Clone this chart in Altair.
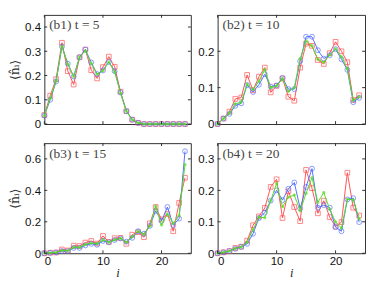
import altair as alt
import pandas as pd

sites = list(range(25))

b1_red = [0.037, 0.117, 0.185, 0.335, 0.218, 0.163, 0.275, 0.307, 0.222, 0.188, 0.235, 0.278, 0.236,
          0.133, 0.053, 0.018, 0.005, 0, 0, 0, 0, 0, 0, 0, 0]
b1_blue = [0.035, 0.100, 0.175, 0.320, 0.249, 0.196, 0.275, 0.307, 0.254, 0.206, 0.221, 0.256, 0.218,
           0.130, 0.053, 0.018, 0.005, 0, 0, 0, 0, 0, 0, 0, 0]
b1_green = [0.035, 0.105, 0.178, 0.320, 0.247, 0.195, 0.275, 0.302, 0.250, 0.205, 0.220, 0.256, 0.215,
            0.128, 0.053, 0.018, 0.005, 0, 0, 0, 0, 0, 0, 0, 0]

b2_red = [0, 0.015, 0.034, 0.069, 0.073, 0.135, 0.093, 0.130, 0.155, 0.087, 0.105, 0.125, 0.075,
          0.064, 0.155, 0.221, 0.215, 0.176, 0.165, 0.195, 0.226, 0.200, 0.170, 0.066, 0.079]
b2_blue = [0, 0.015, 0.028, 0.050, 0.057, 0.107, 0.088, 0.108, 0.137, 0.103, 0.106, 0.127, 0.096,
           0.096, 0.173, 0.240, 0.240, 0.203, 0.180, 0.189, 0.206, 0.178, 0.149, 0.060, 0.072]
b2_green = [0, 0.015, 0.030, 0.055, 0.060, 0.110, 0.095, 0.118, 0.150, 0.100, 0.105, 0.125, 0.090,
            0.100, 0.180, 0.228, 0.215, 0.178, 0.170, 0.190, 0.207, 0.185, 0.152, 0.065, 0.075]

b3_red = [0, 0.003, 0.005, 0.024, 0.018, 0.048, 0.046, 0.068, 0.078, 0.062, 0.110, 0.072, 0.096,
          0.098, 0.060, 0.118, 0.134, 0.102, 0.190, 0.294, 0.215, 0.250, 0.140, 0.320, 0.480]
b3_blue = [0, 0.003, 0.005, 0.014, 0.014, 0.034, 0.034, 0.050, 0.060, 0.054, 0.078, 0.070, 0.084,
           0.094, 0.074, 0.098, 0.140, 0.124, 0.174, 0.270, 0.205, 0.294, 0.178, 0.220, 0.648]
b3_green = [0, 0.003, 0.005, 0.018, 0.016, 0.038, 0.038, 0.055, 0.065, 0.060, 0.085, 0.070, 0.085,
            0.095, 0.070, 0.105, 0.140, 0.120, 0.172, 0.300, 0.180, 0.250, 0.190, 0.240, 0.564]

b4_red = [0, 0.003, 0.007, 0.017, 0.021, 0.040, 0.089, 0.117, 0.144, 0.211, 0.235, 0.112, 0.197,
          0.147, 0.102, 0.265, 0.207, 0.127, 0.167, 0.115, 0.085, 0.099, 0.256, 0.145, 0.120]
b4_blue = [0, 0.003, 0.007, 0.014, 0.020, 0.030, 0.062, 0.112, 0.129, 0.167, 0.200, 0.169, 0.205,
           0.225, 0.142, 0.211, 0.269, 0.145, 0.153, 0.145, 0.083, 0.070, 0.171, 0.175, 0.099]
b4_green = [0, 0.003, 0.007, 0.015, 0.020, 0.035, 0.075, 0.115, 0.113, 0.167, 0.222, 0.148, 0.178,
            0.185, 0.135, 0.190, 0.240, 0.162, 0.193, 0.140, 0.100, 0.080, 0.172, 0.170, 0.110]

labels = ["(b1) t = 5", "(b2) t = 10", "(b3) t = 15", "(b4) t = 20"]
y_max = [0.45, 0.30, 0.70, 0.35]
y_ticks = [[0, 0.1, 0.2, 0.3, 0.4], [0, 0.1, 0.2], [0, 0.2, 0.4, 0.6], [0, 0.1, 0.2, 0.3]]
x_ticks = [0, 10, 20]

RED = "#ff4f4f"
BLUE = "#4f6dff"
GREEN = "#55dd22"
FRAME = "#2a2a2a"
TICK = 3

ASTERISK = "M-1,0L1,0M0,-1L0,1M-0.7,-0.7L0.7,0.7M-0.7,0.7L0.7,-0.7"


def panel(red, blue, green, label, ymax, yt, width, height, show_x, show_ytitle):
    xs = alt.Scale(domain=[0, 25], nice=False, zero=False)
    ys = alt.Scale(domain=[0, ymax], nice=False, zero=False)
    if show_x:
        xaxis = alt.Axis(values=x_ticks, ticks=False, domain=False, grid=False,
                         labelFont="Liberation Sans", labelFontSize=12, labelPadding=3,
                         labelColor="#111", title="i", titleFont="Liberation Serif",
                         titleFontStyle="italic", titleFontWeight="normal", titleFontSize=13,
                         titlePadding=0, titleColor="#222")
    else:
        xaxis = None
    yaxis = alt.Axis(values=yt, ticks=False, domain=False, grid=False,
                     labelFont="Liberation Sans", labelFontSize=12, labelPadding=4,
                     labelColor="#111",
                     labelExpr="datum.value == 0 ? '0' : format(datum.value, '.1f')",
                     title=("⟨n̂ᵢ⟩" if show_ytitle else None), titleFont="DejaVu Serif",
                     titleFontWeight="normal", titleFontSize=13, titlePadding=3,
                     titleColor="#333")
    xenc = alt.X("i:Q", scale=xs, axis=xaxis)
    yenc = alt.Y("val:Q", scale=ys, axis=yaxis)
    layers = []
    for vals, col, kind in [(red, RED, "sq"), (blue, BLUE, "ci"), (green, GREEN, "st")]:
        df = pd.DataFrame({"i": sites, "val": vals})
        base = alt.Chart(df)
        line = base.mark_line(color=col, strokeWidth=1).encode(x=xenc, y=yenc)
        if kind == "sq":
            pt = base.mark_point(shape="square", filled=False, size=24, color=col, strokeWidth=1)
        elif kind == "ci":
            pt = base.mark_point(shape="circle", filled=False, size=26, color=col, strokeWidth=1)
        else:
            pt = base.mark_point(shape=ASTERISK, filled=False, size=10, color=col, strokeWidth=1.6)
        pt = pt.encode(x=xenc, y=yenc)
        layers += [line, pt]

    xt = pd.DataFrame({"i": x_ticks})
    yt_df = pd.DataFrame({"val": yt})
    layers.append(alt.Chart(xt).mark_rule(color=FRAME, strokeWidth=1).encode(
        x=xenc, y=alt.value(height), y2=alt.value(height - TICK)))
    layers.append(alt.Chart(xt).mark_rule(color=FRAME, strokeWidth=1).encode(
        x=xenc, y=alt.value(0), y2=alt.value(TICK)))
    layers.append(alt.Chart(yt_df).mark_rule(color=FRAME, strokeWidth=1).encode(
        y=yenc, x=alt.value(0), x2=alt.value(TICK)))
    layers.append(alt.Chart(yt_df).mark_rule(color=FRAME, strokeWidth=1).encode(
        y=yenc, x=alt.value(width), x2=alt.value(width - TICK)))
    lab = pd.DataFrame({"t": [label]})
    layers.append(alt.Chart(lab).mark_text(align="left", baseline="alphabetic",
                                           font="Liberation Serif", fontSize=14,
                                           color="#444").encode(
        x=alt.value(5), y=alt.value(15), text="t:N"))
    return alt.layer(*layers).properties(width=width, height=height)


W1, W2 = 153, 154
p1 = panel(b1_red, b1_blue, b1_green, labels[0], y_max[0], y_ticks[0], W1, 114, False, True)
p2 = panel(b2_red, b2_blue, b2_green, labels[1], y_max[1], y_ticks[1], W2, 114, False, False)
p3 = panel(b3_red, b3_blue, b3_green, labels[2], y_max[2], y_ticks[2], W1, 115, True, True)
p4 = panel(b4_red, b4_blue, b4_green, labels[3], y_max[3], y_ticks[3], W2, 115, True, False)

chart = alt.vconcat(
    alt.hconcat(p1, p2, spacing=5),
    alt.hconcat(p3, p4, spacing=5),
    spacing=12,
).properties(padding=0).configure_view(stroke=FRAME, strokeWidth=1)

chart.save("out.html", embed_options={"renderer": "svg", "actions": False})
